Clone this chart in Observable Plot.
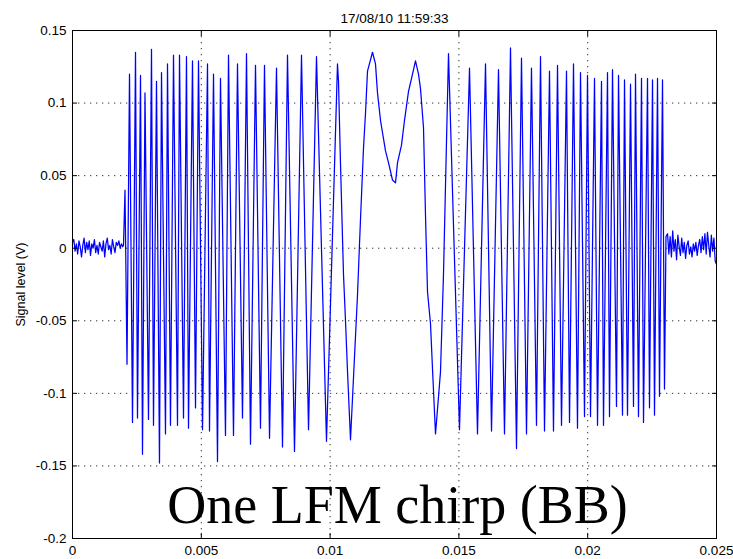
<!DOCTYPE html>
<html>
<head>
<meta charset="utf-8">
<script src="https://cdn.jsdelivr.net/npm/d3@7"></script>
<script src="https://cdn.jsdelivr.net/npm/@observablehq/plot@0.6"></script>
<style>
  html, body { margin: 0; padding: 0; background: #fff; }
  #chart svg { display: block; }
</style>
</head>
<body>
<div id="chart"></div>
<script>
// ---- data ----
const titleText = "17/08/10 11:59:33";
const yLabelText = "Signal level (V)";
const annotationText = "One LFM chirp (BB)";

const xTicks = [0, 0.005, 0.01, 0.015, 0.02, 0.025];
const xTickLabels = ["0", "0.005", "0.01", "0.015", "0.02", "0.025"];
const yTicks = [-0.2, -0.15, -0.1, -0.05, 0, 0.05, 0.1, 0.15];
const yTickLabels = ["-0.2", "-0.15", "-0.1", "-0.05", "0", "0.05", "0.1", "0.15"];

// noise before the chirp (time s, level V)
const noiseLT = [0.00000,0.00005,0.00010,0.00015,0.00020,0.00025,0.00030,0.00035,0.00040,0.00045,
  0.00050,0.00055,0.00060,0.00065,0.00070,0.00075,0.00080,0.00085,0.00090,0.00095,
  0.00100,0.00105,0.00110,0.00115,0.00120,0.00125,0.00130,0.00135,0.00140,0.00145,
  0.00150,0.00155,0.00160,0.00165,0.00170,0.00175,0.00180,0.00185,0.00190,0.00195];
const noiseLV = [0.004,0.006,-0.002,0.003,-0.004,0.005,0.001,-0.006,0.002,0.007,
  -0.003,0.004,-0.001,0.005,-0.005,0.003,0.000,0.006,-0.003,0.002,
  -0.004,0.004,0.001,-0.002,0.005,-0.006,0.003,0.007,-0.001,0.002,
  -0.004,0.006,0.001,-0.003,0.004,0.002,0.005,0.000,0.003,0.001];

// chirp extrema and edges (time s, level V)
const chirpT = [
  0.001980,0.002038,0.002116,0.002213,0.002329,0.002446,0.002523,0.002640,0.002717,0.002814,
  0.002950,0.003067,0.003144,0.003261,0.003377,0.003455,0.003610,0.003688,0.003804,0.003921,
  0.004076,0.004154,0.004309,0.004425,0.004503,0.004658,0.004775,0.004891,0.005047,0.005241,
  0.005318,0.005474,0.005629,0.005745,0.005939,0.006056,0.006250,0.006405,0.006599,0.006755,
  0.006910,0.007104,0.007298,0.007453,0.007648,0.007919,0.008152,0.008346,0.008618,0.008890,
  0.009162,0.009472,0.009860,0.010287,0.010326,0.010404,0.010520,0.010598,0.010676,0.010792,
  0.011064,0.011180,0.011297,0.011374,0.011452,0.011646,0.011762,0.011840,0.011957,0.012151,
  0.012267,0.012422,0.012539,0.012617,0.012772,0.012888,0.013044,0.013199,0.013315,0.013432,
  0.013509,0.013626,0.013703,0.013781,0.013898,0.013975,0.014092,0.014286,0.014402,0.014596,
  0.015023,0.015412,0.015722,0.016033,0.016266,0.016537,0.016770,0.017003,0.017236,0.017430,
  0.017624,0.017818,0.018012,0.018168,0.018323,0.018517,0.018672,0.018828,0.018983,0.019177,
  0.019294,0.019449,0.019604,0.019721,0.019876,0.019992,0.020109,0.020264,0.020381,0.020536,
  0.020613,0.020769,0.020846,0.020963,0.021118,0.021196,0.021351,0.021429,0.021545,0.021662,
  0.021778,0.021856,0.021972,0.022089,0.022166,0.022322,0.022399,0.022516,0.022593,0.022710,
  0.022787,0.022904,0.022981,0.023039];
const chirpV = [
  0.002,0.040,-0.080,0.120,-0.120,0.135,-0.117,0.119,-0.142,0.107,
  -0.118,0.137,-0.122,0.115,-0.148,0.121,-0.128,0.127,-0.122,0.133,
  -0.122,0.133,-0.117,0.132,-0.124,0.129,-0.110,0.129,-0.125,0.127,
  -0.126,0.120,-0.147,0.117,-0.129,0.133,-0.129,0.127,-0.117,0.134,
  -0.135,0.126,-0.124,0.126,-0.131,0.124,-0.137,0.133,-0.140,0.133,
  -0.125,0.132,-0.133,0.127,0.115,0.058,-0.018,-0.050,-0.085,-0.132,
  -0.032,0.020,0.069,0.093,0.122,0.135,0.127,0.107,0.088,0.067,
  0.059,0.047,0.045,0.059,0.071,0.088,0.108,0.120,0.129,0.120,
  0.110,0.083,0.023,-0.030,-0.052,-0.083,-0.128,-0.085,-0.018,0.134,
  -0.125,0.124,-0.128,0.127,-0.126,0.123,-0.128,0.138,-0.138,0.131,
  -0.128,0.124,-0.122,0.132,-0.126,0.122,-0.126,0.126,-0.122,0.122,
  -0.120,0.127,-0.124,0.121,-0.116,0.119,-0.116,0.117,-0.122,0.115,
  -0.122,0.121,-0.116,0.123,-0.109,0.119,-0.115,0.116,-0.115,0.113,
  -0.109,0.120,-0.116,0.117,-0.120,0.117,-0.110,0.116,-0.115,0.117,
  -0.102,0.116,-0.097,0.008];

// noise after the chirp (time s, level V)
const noiseRT = [0.02310,0.02315,0.02320,0.02325,0.02330,0.02335,0.02340,0.02345,0.02350,0.02355,
  0.02360,0.02365,0.02370,0.02375,0.02380,0.02385,0.02390,0.02395,0.02400,0.02405,
  0.02410,0.02415,0.02420,0.02425,0.02430,0.02435,0.02440,0.02445,0.02450,0.02455,
  0.02460,0.02465,0.02470,0.02475,0.02480,0.02485,0.02490,0.02495,0.02500];
const noiseRV = [0.010,-0.004,0.008,-0.006,0.012,-0.002,0.006,-0.008,0.009,0.001,
  -0.005,0.007,-0.003,0.004,-0.007,0.002,0.005,-0.004,0.001,-0.006,
  0.003,-0.002,0.004,-0.005,0.002,0.006,-0.003,0.008,-0.001,0.010,
  -0.004,0.011,0.002,-0.006,0.009,-0.002,0.007,-0.009,-0.011];

// ---- build table ----
const allT = [...noiseLT, ...chirpT, ...noiseRT];
const allV = [...noiseLV, ...chirpV, ...noiseRV];
const signal = allT.map((t, i) => ({t, v: allV[i]}));

const xLab = d => xTickLabels[xTicks.findIndex(k => Math.abs(k - d) < 1e-9)];
const yLab = d => yTickLabels[yTicks.findIndex(k => Math.abs(k - d) < 1e-9)];

const chart = Plot.plot({
  width: 733,
  height: 559,
  marginLeft: 72,
  marginRight: 17,
  marginTop: 30,
  marginBottom: 21,
  style: {fontFamily: "'Liberation Sans', Arial, sans-serif", fontSize: "13px", background: "#fff", color: "#000"},
  x: {domain: [0, 0.025], label: null},
  y: {domain: [-0.2, 0.15], label: null},
  marks: [
    Plot.gridX(xTicks, {stroke: "#000", strokeOpacity: 0.8, strokeDasharray: "1.3,4.7"}),
    Plot.gridY(yTicks, {stroke: "#000", strokeOpacity: 0.8, strokeDasharray: "1.3,4.7"}),
    Plot.line(signal, {x: "t", y: "v", stroke: "#0000ff", strokeWidth: 1.25}),
    Plot.frame({stroke: "#000", strokeWidth: 1}),
    Plot.axisX(xTicks, {anchor: "bottom", tickSize: 5, dy: -5, tickFormat: () => "", label: null}),
    Plot.axisX(xTicks, {anchor: "top", tickSize: 5, dy: 5, tickFormat: () => "", label: null}),
    Plot.axisY(yTicks, {anchor: "left", tickSize: 5, dx: 5, tickFormat: () => "", label: null}),
    Plot.axisY(yTicks, {anchor: "right", tickSize: 5, dx: -5, tickFormat: () => "", label: null}),
    Plot.axisX(xTicks, {anchor: "bottom", tickSize: 0, tickPadding: 7, tickFormat: xLab, label: null, fontSize: 13.5}),
    Plot.axisY(yTicks, {anchor: "left", tickSize: 0, tickPadding: 6, tickFormat: yLab, label: null, fontSize: 13.5}),
    Plot.text([titleText], {frameAnchor: "top", dy: -8, lineAnchor: "bottom", textAnchor: "middle", text: d => d, fontSize: 13.5, fill: "#000"}),
    Plot.text([yLabelText], {frameAnchor: "left", dx: -52, rotate: -90, textAnchor: "middle", lineAnchor: "middle", text: d => d, fontSize: 12.5, fill: "#000"}),
    Plot.text([annotationText], {frameAnchor: "bottom", dx: 3, dy: -16, lineAnchor: "bottom", textAnchor: "middle", text: d => d,
      fontFamily: "'Liberation Serif', 'Times New Roman', serif", fontSize: 54, fill: "#000"})
  ]
});
document.getElementById("chart").appendChild(chart);
</script>
</body>
</html>
